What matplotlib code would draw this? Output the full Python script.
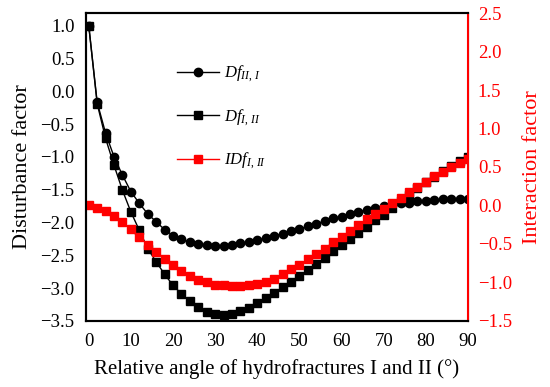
import matplotlib
matplotlib.use("Agg")
import matplotlib.pyplot as plt
from matplotlib.ticker import FuncFormatter

plt.rcParams['font.family'] = 'Liberation Serif'
plt.rcParams['mathtext.fontset'] = 'custom'
plt.rcParams['mathtext.rm'] = 'Liberation Serif'
plt.rcParams['mathtext.it'] = 'Liberation Serif:italic'

angle = list(range(0, 92, 2))
df_2_1 = [1.00, -0.17, -0.64, -1.00, -1.28, -1.53, -1.71, -1.87, -1.99, -2.11,
          -2.20, -2.26, -2.30, -2.33, -2.35, -2.36, -2.36, -2.34, -2.32, -2.30,
          -2.27, -2.24, -2.21, -2.17, -2.13, -2.10, -2.06, -2.02, -1.98, -1.94,
          -1.91, -1.87, -1.84, -1.81, -1.78, -1.75, -1.73, -1.71, -1.70, -1.68,
          -1.67, -1.66, -1.65, -1.65, -1.64, -1.64]
df_1_2 = [1.00, -0.19, -0.72, -1.13, -1.51, -1.84, -2.12, -2.40, -2.60, -2.79,
          -2.96, -3.09, -3.20, -3.29, -3.37, -3.40, -3.41, -3.39, -3.35, -3.30,
          -3.23, -3.15, -3.07, -2.99, -2.91, -2.82, -2.73, -2.63, -2.54, -2.44,
          -2.34, -2.25, -2.16, -2.07, -1.97, -1.88, -1.78, -1.68, -1.58, -1.48,
          -1.39, -1.30, -1.22, -1.14, -1.07, -1.01]
idf_1_2 = [0.00, -0.03, -0.07, -0.14, -0.22, -0.31, -0.41, -0.51, -0.60, -0.69,
           -0.78, -0.85, -0.92, -0.97, -1.00, -1.03, -1.04, -1.05, -1.05, -1.04,
           -1.02, -0.99, -0.95, -0.89, -0.83, -0.77, -0.70, -0.63, -0.56, -0.48,
           -0.41, -0.33, -0.26, -0.18, -0.11, -0.04, 0.03, 0.10, 0.17, 0.24,
           0.31, 0.38, 0.44, 0.50, 0.55, 0.61]

fig = plt.figure(figsize=(5.5, 3.87), dpi=100)
ax = fig.add_axes([0.156, 0.171, 0.695, 0.795])
ax2 = ax.twinx()

l1, = ax.plot(angle, df_2_1, color='black', marker='o', markersize=6, linewidth=1)
l2, = ax.plot(angle, df_1_2, color='black', marker='s', markersize=5.5, linewidth=1)
l3, = ax2.plot(angle, idf_1_2, color='red', marker='s', markersize=6, linewidth=1)

ax.set_xlim(-0.7, 90)
ax.set_ylim(-3.5, 1.19)
ax2.set_ylim(-1.5, 2.5)
ax.set_xticks(range(0, 100, 10))
ax.set_yticks([-3.5, -3.0, -2.5, -2.0, -1.5, -1.0, -0.5, 0.0, 0.5, 1.0])
ax2.set_yticks([-1.5, -1.0, -0.5, 0.0, 0.5, 1.0, 1.5, 2.0, 2.5])
fmt = FuncFormatter(lambda v, p: ('%.1f' % v).replace('-', '\u2212'))
ax.yaxis.set_major_formatter(fmt)
ax2.yaxis.set_major_formatter(fmt)

ax.tick_params(axis='y', length=0, labelsize=13.5, pad=8)
ax.tick_params(axis='x', length=0, labelsize=13.5, pad=9)
ax2.tick_params(length=0, labelsize=13.5, pad=7, colors='red')

for s in ['left', 'top', 'bottom']:
    ax.spines[s].set_linewidth(1.5)
    ax2.spines[s].set_linewidth(1.5)
ax2.spines['right'].set_color('red')
ax2.spines['right'].set_linewidth(1.5)

ax.set_xlabel('Relative angle of hydrofractures I and II (°)', fontsize=15, labelpad=6)
ax.set_ylabel('Disturbance factor', fontsize=16, labelpad=6)
ax2.set_ylabel('Interaction factor', fontsize=16, color='red', labelpad=8)

ax.legend([l1, l2, l3],
          [r'$Df_{II,\,I}$', r'$Df_{I,\,II}$', r'$IDf_{I,\,II}$'],
          loc='upper left', bbox_to_anchor=(0.2, 0.885), frameon=False,
          fontsize=12, handlelength=2.5, labelspacing=1.35, handletextpad=0.3)

fig.savefig('out.png', dpi=100)
